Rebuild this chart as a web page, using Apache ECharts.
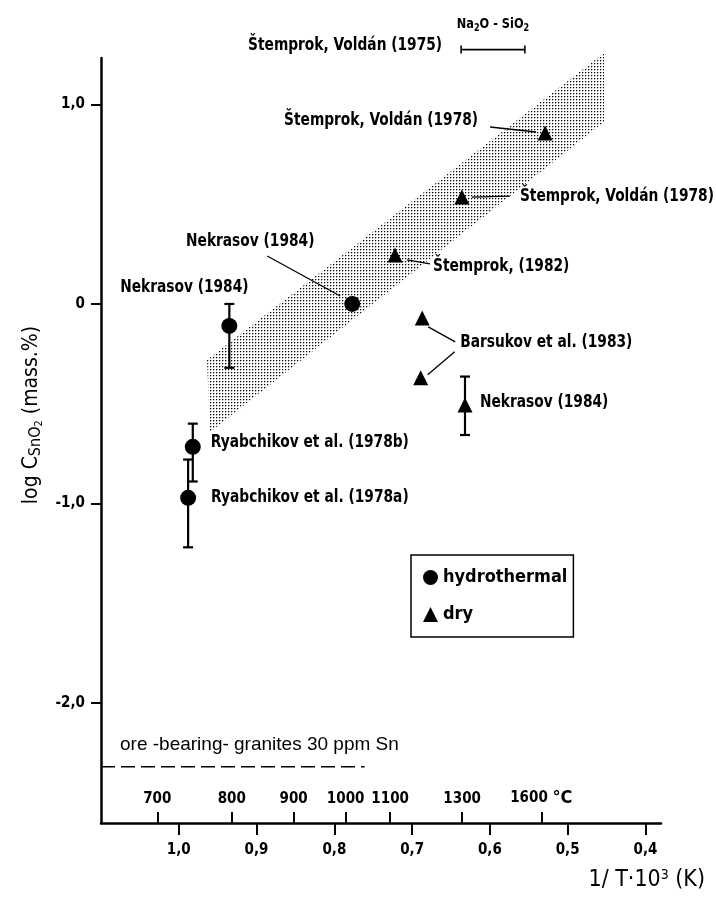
<!DOCTYPE html>
<html><head><meta charset="utf-8">
<script src="https://cdn.jsdelivr.net/npm/echarts@6/dist/echarts.min.js"></script>
<style>html,body{margin:0;padding:0;background:#fff}#c{width:716px;height:914px}</style>
</head><body><div id="c"></div>
<script>
const FONT = '"Liberation Sans Narrow","DejaVu Sans Condensed","Roboto Condensed",sans-serif';

// ---- data ----
const xTicks = [1.0, 0.9, 0.8, 0.7, 0.6, 0.5, 0.4];
const xTickLabels = ['1,0', '0,9', '0,8', '0,7', '0,6', '0,5', '0,4'];
const yTicks = [1.0, 0, -1.0, -2.0];
const yTickLabels = ['1,0', '0', '-1,0', '-2,0'];
const celsiusTicks = [700, 800, 900, 1000, 1100, 1300, 1600];

const hydroLabels = ['Nekrasov (1984)', 'Nekrasov (1984)', 'Ryabchikov et al. (1978b)', 'Ryabchikov et al. (1978a)'];
const hydroX = [0.777, 0.935, 0.982, 0.988];
const hydroY = [0.0, -0.11, -0.716, -0.972];
const hydroErrLow = [null, -0.32, -0.89, -1.22];
const hydroErrHigh = [null, 0.0, -0.60, -0.78];

const dryLabels = ['Štemprok, Voldán (1978)', 'Štemprok, Voldán (1978)', 'Štemprok, (1982)', 'Barsukov et al. (1983)', '', 'Nekrasov (1984)'];
const dryX = [0.529, 0.636, 0.722, 0.687, 0.689, 0.632];
const dryY = [0.857, 0.536, 0.246, -0.07, -0.37, -0.506];
const dryErrLow = [null, null, null, null, null, -0.657];
const dryErrHigh = [null, null, null, null, null, -0.364];

const bandX = [0.9637, 0.4533, 0.4533, 0.9599];
const bandY = [-0.281, 1.258, 0.912, -0.642];

const oreLevel = -2.32;
const oreX = [1.1, 0.761];
const oreText = 'ore -bearing- granites 30 ppm Sn';

const na2oRange = [0.637, 0.555];
const na2oLevel = 1.275;
const na2oRef = 'Štemprok, Voldán (1975)';

// ---- helpers ----
const dotCanvas = document.createElement('canvas');
dotCanvas.width = 3; dotCanvas.height = 3;
(function(){ const g = dotCanvas.getContext('2d'); g.fillStyle = '#000'; g.fillRect(0, 0, 1, 1); g.fillStyle='rgba(0,0,0,0.3)'; g.fillRect(1,0,1,1); g.fillRect(0,1,1,1); })();

function errRender(params, api) {
  const x = api.value(0), lo = api.value(1), hi = api.value(2);
  const p1 = api.coord([x, hi]), p2 = api.coord([x, lo]);
  const w = 5;
  const st = {stroke: '#000', lineWidth: 2.2};
  return {type: 'group', children: [
    {type: 'line', shape: {x1: p1[0], y1: p1[1], x2: p2[0], y2: p2[1]}, style: st},
    {type: 'line', shape: {x1: p1[0] - w, y1: p1[1], x2: p1[0] + w, y2: p1[1]}, style: st},
    {type: 'line', shape: {x1: p2[0] - w, y1: p2[1], x2: p2[0] + w, y2: p2[1]}, style: st}
  ]};
}
function errData(xs, lo, hi) {
  const out = [];
  xs.forEach((x, i) => { if (lo[i] !== null) out.push([x, lo[i], hi[i]]); });
  return out;
}
function bandRender(params, api) {
  if (params.dataIndex !== 0) return null;
  const pts = bandX.map((x, i) => api.coord([x, bandY[i]]));
  return {type: 'polygon', shape: {points: pts}, style: {fill: {image: dotCanvas, repeat: 'repeat'}, stroke: null}};
}

const XMIN = 0.38, XMAX = 1.1, YMIN = -2.602, YMAX = 1.233;
const celsiusX = celsiusTicks.map(c => 1000 / (c + 273.15));

const chart = echarts.init(document.getElementById('c'), null, {renderer: 'canvas'});
const option = {
  animation: false,
  backgroundColor: '#fff',
  textStyle: {fontFamily: FONT},
  grid: {left: 101, right: 55, top: 58, bottom: 91, containLabel: false},
  xAxis: [{
    type: 'value', min: XMIN, max: XMAX, inverse: true,
    axisLine: {show: true, onZero: false, lineStyle: {color: '#000', width: 2.5}},
    axisTick: {show: true, customValues: xTicks, length: 12, lineStyle: {color: '#000', width: 2}},
    axisLabel: {show: true, customValues: xTicks, margin: 20, color: '#000', fontFamily: FONT, fontWeight: 'bold', fontSize: 15,
      formatter: v => xTickLabels[xTicks.findIndex(t => Math.abs(t - v) < 1e-6)] || ''},
    splitLine: {show: false}
  }, {
    type: 'value', min: XMIN, max: XMAX, inverse: true, position: 'bottom', gridIndex: 0,
    axisLine: {show: false, onZero: false},
    axisTick: {show: true, inside: true, customValues: celsiusX, length: 11, lineStyle: {color: '#000', width: 2}},
    axisLabel: {show: true, inside: true, customValues: celsiusX, margin: 16, color: '#000', fontFamily: FONT, fontWeight: 'bold', fontSize: 15,
      formatter: v => {
        let k = 0, d = 1e9;
        celsiusX.forEach((cx, i) => { if (Math.abs(cx - v) < d) { d = Math.abs(cx - v); k = i; } });
        return k === celsiusTicks.length - 1 ? celsiusTicks[k] + ' {u|°C}' : String(celsiusTicks[k]);
      },
      rich: {u: {fontFamily: FONT, fontWeight: 'bold', fontSize: 18, color: '#000'}}},
    splitLine: {show: false}
  }],
  yAxis: {
    type: 'value', min: YMIN, max: YMAX,
    axisLine: {show: true, onZero: false, lineStyle: {color: '#000', width: 2.5}},
    axisTick: {show: true, customValues: yTicks, length: 10, lineStyle: {color: '#000', width: 2}},
    axisLabel: {show: true, customValues: yTicks, margin: 16, color: '#000', fontFamily: FONT, fontWeight: 'bold', fontSize: 15,
      formatter: v => yTickLabels[yTicks.findIndex(t => Math.abs(t - v) < 1e-6)] || ''},
    splitLine: {show: false}
  },
  legend: {
    show: true, orient: 'vertical', left: 411, top: 555,
    data: ['hydrothermal', 'dry'],
    borderColor: '#000', borderWidth: 1.5, padding: [10, 6, 10, 12],
    itemWidth: 15, itemHeight: 15, itemGap: 12, itemStyle: {color: '#000'},
    textStyle: {fontFamily: FONT, fontWeight: 'bold', fontSize: 18, color: '#000', width: 124, lineHeight: 25}
  },
  series: [
    {type: 'custom', name: 'band', renderItem: bandRender, data: bandX.map((x, i) => [x, bandY[i]]), silent: true, z: 1, clip: false},
    {type: 'line', name: 'ore', data: oreX.map(x => [x, oreLevel]), symbol: 'none', lineStyle: {color: '#000', width: 1.4, type: [14, 6]}, z: 2},
    {type: 'custom', name: 'err', renderItem: errRender, data: errData(hydroX, hydroErrLow, hydroErrHigh).concat(errData(dryX, dryErrLow, dryErrHigh)), z: 3},
    {type: 'scatter', name: 'hydrothermal', data: hydroX.map((x, i) => [x, hydroY[i]]), symbol: 'circle', symbolSize: 16, itemStyle: {color: '#000', opacity: 1}, z: 5},
    {type: 'scatter', name: 'dry', data: dryX.map((x, i) => [x, dryY[i]]), symbol: 'triangle', symbolSize: 15, itemStyle: {color: '#000', opacity: 1}, z: 5}
  ]
};
chart.setOption(option);

// ---- annotations anchored to data ----
const P = (x, y) => chart.convertToPixel({gridIndex: 0}, [x, y]);
const hydroP = hydroX.map((x, i) => P(x, hydroY[i]));
const dryP = dryX.map((x, i) => P(x, dryY[i]));
const SX = 0.9;
const labelStyle = {fontFamily: FONT, fontWeight: 'bold', fontSize: 17, fill: '#000'};
const layout = [
  {set: 'dry', i: 0, dx: -67, dy: -12, align: 'right', lead: [-55, -6, -9, -1]},
  {set: 'dry', i: 1, dx: 58, dy: 0, align: 'left', lead: [10, 0, 48, -1]},
  {set: 'dry', i: 2, dx: 38, dy: 12, align: 'left', lead: [12, 5, 35, 9]},
  {set: 'hydro', i: 0, dx: -102, dy: -62, align: 'center', lead: [-85, -48, -12, -8]},
  {set: 'hydro', i: 1, dx: -45, dy: -38, align: 'center'},
  {set: 'dry', i: 3, dx: 38, dy: 25, align: 'left', lead: [6, 9, 33, 24]},
  {set: 'dry', i: 4, lead: [34, -26, 7, -3]},
  {set: 'dry', i: 5, dx: 15, dy: -2, align: 'left'},
  {set: 'hydro', i: 2, dx: 18, dy: -4, align: 'left'},
  {set: 'hydro', i: 3, dx: 23, dy: 0, align: 'left'}
];
const gfx = [];
function textEl(x, y, style, extra) {
  return Object.assign({type: 'text', x: x, y: y, scaleX: SX, originX: x, originY: y, style: style, z: 10}, extra || {});
}
layout.forEach(L => {
  const p = L.set === 'dry' ? dryP[L.i] : hydroP[L.i];
  const txt = L.set === 'dry' ? dryLabels[L.i] : hydroLabels[L.i];
  if (txt && L.dx !== undefined) {
    gfx.push({type: 'text', x: p[0] + L.dx, y: p[1] + L.dy, scaleX: SX, style: Object.assign({text: txt, align: L.align, verticalAlign: 'middle'}, labelStyle), z: 10});
  }
  if (L.lead) {
    gfx.push({type: 'line', shape: {x1: p[0] + L.lead[0], y1: p[1] + L.lead[1], x2: p[0] + L.lead[2], y2: p[1] + L.lead[3]}, style: {stroke: '#000', lineWidth: 1.3}, z: 10});
  }
});
// Na2O-SiO2 bracket
const b1 = P(na2oRange[0], na2oLevel), b2 = P(na2oRange[1], na2oLevel);
gfx.push({type: 'line', shape: {x1: b1[0], y1: b1[1], x2: b2[0], y2: b2[1]}, style: {stroke: '#000', lineWidth: 1.6}});
gfx.push({type: 'line', shape: {x1: b1[0], y1: b1[1] - 4, x2: b1[0], y2: b1[1] + 4}, style: {stroke: '#000', lineWidth: 1.6}});
gfx.push({type: 'line', shape: {x1: b2[0], y1: b2[1] - 4, x2: b2[0], y2: b2[1] + 4}, style: {stroke: '#000', lineWidth: 1.6}});
gfx.push({type: 'text', x: (b1[0] + b2[0]) / 2, y: b1[1] - 25, scaleX: SX, style: {text: 'Na{s|2}O - SiO{s|2}', align: 'center', verticalAlign: 'middle', fontFamily: FONT, fontWeight: 'bold', fontSize: 14, fill: '#000',
  rich: {s: {fontFamily: FONT, fontWeight: 'bold', fontSize: 10, fill: '#000', padding: [8, 0, 0, 0]}}}});
gfx.push({type: 'text', x: b1[0] - 19, y: b1[1] - 4, scaleX: SX, style: Object.assign({text: na2oRef, align: 'right', verticalAlign: 'middle'}, labelStyle)});
// ore-bearing granites label
const o1 = P(oreX[0], oreLevel);
gfx.push({type: 'text', x: o1[0] + 19, y: o1[1] - 22, style: {text: oreText, align: 'left', verticalAlign: 'middle', fontFamily: '"Liberation Sans","DejaVu Sans",sans-serif', fontSize: 19, fill: '#000'}});
// axis names
gfx.push({type: 'text', x: 32, y: 415, rotation: Math.PI / 2, style: {text: 'log C{s|SnO}{t|2} (mass.%)', align: 'center', verticalAlign: 'middle', fontFamily: FONT, fontSize: 21, fill: '#000',
  rich: {s: {fontFamily: FONT, fontSize: 16, fill: '#000', padding: [8, 0, 0, 0]}, t: {fontFamily: FONT, fontSize: 11, fill: '#000', padding: [14, 0, 0, 0]}}}});
gfx.push({type: 'text', x: 705, y: 880, style: {text: '1/ T·10{s|3} (K)', align: 'right', verticalAlign: 'middle', fontFamily: FONT, fontSize: 23, fill: '#000',
  rich: {s: {fontFamily: FONT, fontSize: 14, fill: '#000', padding: [0, 0, 10, 0]}}}});
chart.setOption({graphic: gfx});
</script></body></html>
